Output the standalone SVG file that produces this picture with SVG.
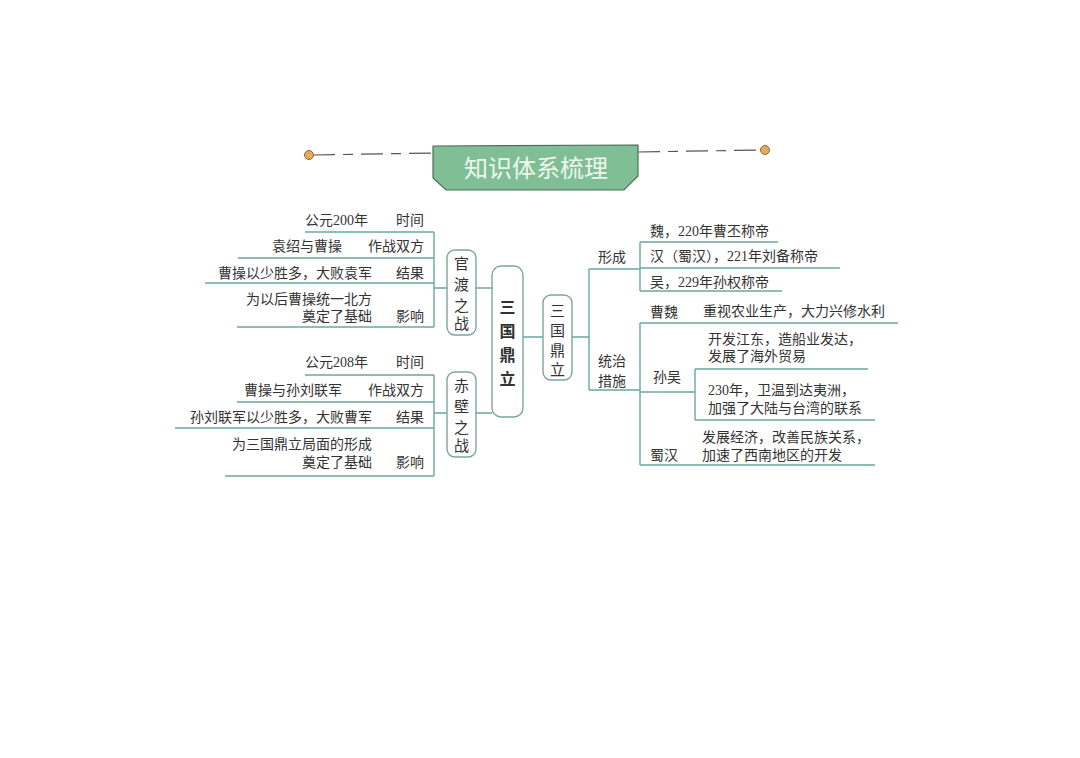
<svg xmlns="http://www.w3.org/2000/svg" width="1080" height="758" viewBox="0 0 1080 758">
<style>
text{font-family:"Liberation Serif","Noto Sans CJK SC",serif;font-size:14px;fill:#333}
.ln{stroke:#6aa8a0;stroke-width:1.4;fill:none}
.bx{stroke:#7aa89a;stroke-width:1.4;fill:#fff}
.r{text-anchor:end}
.m{text-anchor:middle;font-size:15px}
.c{text-anchor:middle;font-weight:bold;font-size:16px;font-family:"Noto Sans CJK SC",sans-serif}
</style>
<rect width="1080" height="758" fill="#fff"/>
<g id="title">
<line x1="313" y1="155" x2="433" y2="153" stroke="#555" stroke-width="1.2" stroke-dasharray="22,8,10,8"/>
<line x1="638" y1="152" x2="761" y2="150" stroke="#555" stroke-width="1.2" stroke-dasharray="22,8,10,8"/>
<circle cx="309" cy="155" r="4.5" fill="#e6aa5a" stroke="#8a6a30"/>
<circle cx="765" cy="150" r="4.5" fill="#e6aa5a" stroke="#8a6a30"/>
<polygon points="433,146 638,145 638,176 624,190 446,190 433,178" fill="#80bf96" stroke="#4e6e58" stroke-width="1.2"/>
<text x="536" y="177" text-anchor="middle" style="font-family:'Noto Sans CJK SC',sans-serif;font-size:24px;fill:#eef7ee">知识体系梳理</text>
</g>
<g id="connectors" class="ln">
<path d="M476 288H492M476 413H492M434 232V327M434 288H447M434 375V476M434 413H447"/>
<path d="M305 232H434M238 258H434M205 283H434M237 327H434"/>
<path d="M305 375H434M237 402H434M175 428H434M225 476H434"/>
<path d="M523 337H543M572 337H589M589 269V390M589 269H640M589 390H640M640 242V291M640 242H778M640 268H840M640 291H782"/>
<path d="M640 323V465M640 323H898M640 392H695M695 369V420M695 369H868M695 420H875M640 465H875"/>
</g>
<g id="center"><rect class="bx" x="492" y="266" width="31" height="151" rx="9"/>
<text x="507.5" y="313" class="c">三</text>
<text x="507.5" y="337" class="c">国</text>
<text x="507.5" y="361" class="c">鼎</text>
<text x="507.5" y="385" class="c">立</text></g>
<g id="guandu"><rect class="bx" x="447" y="250" width="29" height="85" rx="8"/>
<text x="461.5" y="269" class="m">官</text><text x="461.5" y="290" class="m">渡</text><text x="461.5" y="311" class="m">之</text><text x="461.5" y="329" class="m">战</text>
<text x="305" y="225">公元200年</text><text x="424" y="225" class="r">时间</text>
<text x="342" y="251" class="r">袁绍与曹操</text><text x="424" y="251" class="r">作战双方</text>
<text x="372" y="278" class="r">曹操以少胜多，大败袁军</text><text x="424" y="278" class="r">结果</text>
<text x="372" y="304" class="r">为以后曹操统一北方</text><text x="372" y="321" class="r">奠定了基础</text><text x="424" y="321" class="r">影响</text></g>
<g id="chibi"><rect class="bx" x="447" y="372" width="29" height="85" rx="8"/>
<text x="461.5" y="391" class="m">赤</text><text x="461.5" y="412" class="m">壁</text><text x="461.5" y="433" class="m">之</text><text x="461.5" y="451" class="m">战</text>
<text x="305" y="367">公元208年</text><text x="424" y="367" class="r">时间</text>
<text x="342" y="395" class="r">曹操与孙刘联军</text><text x="424" y="395" class="r">作战双方</text>
<text x="372" y="422" class="r">孙刘联军以少胜多，大败曹军</text><text x="424" y="422" class="r">结果</text>
<text x="372" y="449" class="r">为三国鼎立局面的形成</text><text x="372" y="467" class="r">奠定了基础</text><text x="424" y="467" class="r">影响</text></g>
<g id="sanguo"><rect class="bx" x="543" y="295" width="29" height="85" rx="8"/>
<text x="557.5" y="316" class="m">三</text><text x="557.5" y="336" class="m">国</text><text x="557.5" y="356" class="m">鼎</text><text x="557.5" y="375" class="m">立</text></g>
<g id="xingcheng"><text x="598" y="262">形成</text>
<text x="650" y="236">魏，220年曹丕称帝</text>
<text x="650" y="261">汉（蜀汉），221年刘备称帝</text>
<text x="650" y="287">吴，229年孙权称帝</text></g>
<g id="tongzhi"><text x="598" y="366">统治</text><text x="598" y="386">措施</text>
<text x="650" y="317">曹魏</text><text x="703" y="316">重视农业生产，大力兴修水利</text>
<text x="653" y="382">孙吴</text>
<text x="708" y="344">开发江东，造船业发达，</text><text x="708" y="361">发展了海外贸易</text>
<text x="708" y="395">230年，卫温到达夷洲，</text><text x="708" y="413">加强了大陆与台湾的联系</text>
<text x="650" y="460">蜀汉</text>
<text x="702" y="442">发展经济，改善民族关系，</text><text x="702" y="460">加速了西南地区的开发</text></g>
</svg>
